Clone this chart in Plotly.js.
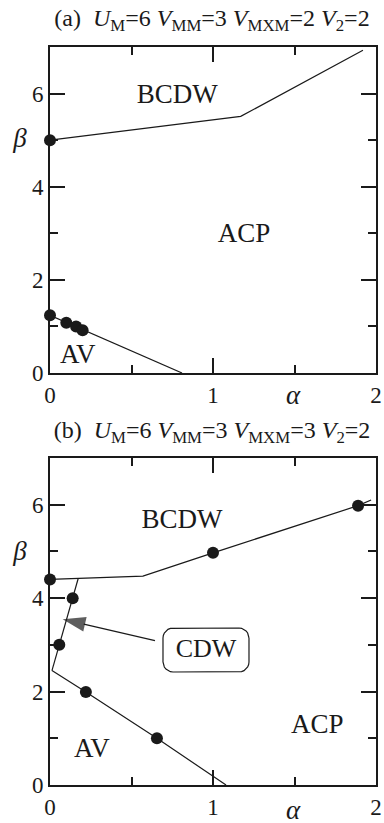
<!DOCTYPE html>
<html>
<head>
<meta charset="utf-8">
<script src="https://cdn.plot.ly/plotly-3.0.1.min.js"></script>
<style>html,body{margin:0;padding:0;background:#fff;}#chart{width:384px;height:823px;}</style>
</head>
<body>
<div id="chart"></div>
<script>
// ---------- Panel (a) data ----------
const aUpperX = [0, 1.17, 1.92];
const aUpperY = [5.0, 5.51, 6.93];
const aUpperPtsX = [0];
const aUpperPtsY = [5.0];
const aLowerX = [0, 0.81];
const aLowerY = [1.24, 0];
const aLowerPtsX = [0, 0.10, 0.16, 0.20];
const aLowerPtsY = [1.24, 1.08, 1.0, 0.92];

// ---------- Panel (b) data ----------
const bUpperX = [0, 0.57, 1.0, 1.89, 1.97];
const bUpperY = [4.4, 4.47, 4.97, 5.98, 6.1];
const bUpperPtsX = [0, 1.0, 1.89];
const bUpperPtsY = [4.4, 4.97, 5.98];
const bCdwX = [0.012, 0.057, 0.139, 0.173];
const bCdwY = [2.45, 3.0, 4.0, 4.42];
const bCdwPtsX = [0.057, 0.139];
const bCdwPtsY = [3.0, 4.0];
const bLowerX = [0.012, 0.22, 0.656, 1.08];
const bLowerY = [2.45, 1.99, 1.0, 0];
const bLowerPtsX = [0.22, 0.656];
const bLowerPtsY = [1.99, 1.0];

// ---------- labels ----------
const xTickStep = 1;
const xMinorStep = 0.5;
const yTickStep = 2;
const yMinorStep = 1;
const aPhaseNames = ['BCDW', 'ACP', 'AV'];
const aPhaseX = [0.78, 1.19, 0.17];
const aPhaseY = [5.95, 2.95, 0.36];
const bPhaseNames = ['BCDW', 'ACP', 'AV'];
const bPhaseX = [0.81, 1.64, 0.257];
const bPhaseY = [5.65, 1.26, 0.75];
const cdwLabel = 'CDW';
const cdwPos = [0.957, 2.89];
const cdwArrowTip = [0.078, 3.55];
const cdwArrowTail = [0.644, 3.09];
const titleA = '(a)  <i>U</i><sub>M</sub>=6 <i>V</i><sub>MM</sub>=3 <i>V</i><sub>MXM</sub>=2 <i>V</i><sub>2</sub>=2';
const titleB = '(b)  <i>U</i><sub>M</sub>=6 <i>V</i><sub>MM</sub>=3 <i>V</i><sub>MXM</sub>=3 <i>V</i><sub>2</sub>=2';
const xTitle = '<i>α</i>';
const yTitle = '<i>β</i>';

const FONT = 'Liberation Serif, Times New Roman, serif';
const INK = '#1a1a1a';
const W = 384, H = 823;
const X_LEFT = 50, X_RIGHT = 376;
const A_TOP = 47, A_BOTTOM = 373, B_TOP = 458, B_BOTTOM = 785;
const X_RANGE = [0, 2], Y_RANGE = [0, 7];

// pixel <-> data unit sizes (used for the rounded box only)
const ux = (X_RANGE[1] - X_RANGE[0]) / (X_RIGHT - X_LEFT);
const uyB = (Y_RANGE[1] - Y_RANGE[0]) / (B_BOTTOM - B_TOP);

function lineTrace(x, y, xa, ya) {
  return {x: x, y: y, xaxis: xa, yaxis: ya, mode: 'lines', type: 'scatter',
          line: {color: INK, width: 1.2}, showlegend: false, hoverinfo: 'none'};
}
function ptsTrace(x, y, xa, ya) {
  return {x: x, y: y, xaxis: xa, yaxis: ya, mode: 'markers', type: 'scatter',
          marker: {color: INK, size: 12}, showlegend: false, cliponaxis: false, hoverinfo: 'none'};
}
function textTrace(x, y, t, xa, ya, size) {
  return {x: x, y: y, text: t, xaxis: xa, yaxis: ya, mode: 'text', type: 'scatter',
          textposition: 'middle center', textfont: {family: FONT, size: size, color: INK},
          showlegend: false, cliponaxis: false, hoverinfo: 'none'};
}

// rounded box around CDW label: 43x22 px half-size, 10 px corner radius
function roundedBox(cx, cy, hw, hh, r) {
  const xs = [], ys = [];
  const corners = [[hw - r, hh - r, 0], [-(hw - r), hh - r, 90], [-(hw - r), -(hh - r), 180], [hw - r, -(hh - r), 270]];
  corners.forEach(c => {
    for (let k = 0; k <= 6; k++) {
      const a = (c[2] + k * 15) * Math.PI / 180;
      xs.push(cx + (c[0] + r * Math.cos(a)) * ux);
      ys.push(cy + (c[1] + r * Math.sin(a)) * uyB);
    }
  });
  xs.push(xs[0]); ys.push(ys[0]);
  return {x: xs, y: ys};
}
const box = roundedBox(cdwPos[0], cdwPos[1], 43, 22, 10);

// page-pixel positions of the texts outside the plotting areas (overlay subplot x3/y3)
const outsideText = [titleA, titleB, yTitle, yTitle, xTitle, xTitle];
const outsidePX = [212, 212, 20, 20, 293, 293];
const outsidePY = [20, 432, 140, 553, 397, 812];
const outsideSize = [24, 24, 27, 27, 27, 27];

const traces = [
  lineTrace(aUpperX, aUpperY, 'x', 'y'),
  lineTrace(aLowerX, aLowerY, 'x', 'y'),
  ptsTrace(aUpperPtsX, aUpperPtsY, 'x', 'y'),
  ptsTrace(aLowerPtsX, aLowerPtsY, 'x', 'y'),
  lineTrace(bUpperX, bUpperY, 'x2', 'y2'),
  lineTrace(bCdwX, bCdwY, 'x2', 'y2'),
  lineTrace(bLowerX, bLowerY, 'x2', 'y2'),
  ptsTrace(bUpperPtsX, bUpperPtsY, 'x2', 'y2'),
  ptsTrace(bCdwPtsX, bCdwPtsY, 'x2', 'y2'),
  ptsTrace(bLowerPtsX, bLowerPtsY, 'x2', 'y2'),
  // CDW box and arrow
  lineTrace(box.x, box.y, 'x2', 'y2'),
  {x: [cdwArrowTail[0], cdwArrowTip[0]], y: [cdwArrowTail[1], cdwArrowTip[1]], xaxis: 'x2', yaxis: 'y2',
   mode: 'lines+markers', type: 'scatter', line: {color: INK, width: 1.2},
   marker: {symbol: 'arrow', angleref: 'previous', size: [0, 24], color: INK, line: {width: 0}},
   showlegend: false, cliponaxis: false, hoverinfo: 'none'},
  // texts inside plots
  textTrace(aPhaseX, aPhaseY, aPhaseNames, 'x', 'y', 27),
  textTrace(bPhaseX, bPhaseY, bPhaseNames, 'x2', 'y2', 27),
  textTrace([cdwPos[0]], [cdwPos[1]], [cdwLabel], 'x2', 'y2', 26)
];
outsideText.forEach((t, i) => traces.push(textTrace([outsidePX[i]], [outsidePY[i]], [t], 'x3', 'y3', outsideSize[i])));

function xAxis(anchor) {
  return {
    domain: [X_LEFT / W, X_RIGHT / W], anchor: anchor, range: X_RANGE,
    tickmode: 'linear', tick0: 0, dtick: xTickStep,
    ticks: 'inside', ticklen: 15, tickwidth: 2, tickcolor: INK,
    minor: {dtick: xMinorStep, ticks: 'inside', ticklen: 8, tickwidth: 2, tickcolor: INK},
    showline: true, linewidth: 2, linecolor: INK, mirror: 'ticks',
    showgrid: false, zeroline: false,
    tickfont: {family: FONT, size: 23, color: INK}
  };
}
function yAxis(anchor, top, bottom) {
  return {
    domain: [1 - bottom / H, 1 - top / H], anchor: anchor, range: Y_RANGE,
    tickmode: 'linear', tick0: 0, dtick: yTickStep,
    ticks: 'inside', ticklen: 15, tickwidth: 2, tickcolor: INK,
    minor: {dtick: yMinorStep, ticks: 'inside', ticklen: 8, tickwidth: 2, tickcolor: INK},
    showline: true, linewidth: 2, linecolor: INK, mirror: 'ticks',
    showgrid: false, zeroline: false,
    tickfont: {family: FONT, size: 23, color: INK}
  };
}

const layout = {
  width: W, height: H, margin: {l: 0, r: 0, t: 0, b: 0},
  paper_bgcolor: '#fff', plot_bgcolor: 'rgba(0,0,0,0)', showlegend: false,
  xaxis: xAxis('y'), yaxis: yAxis('x', A_TOP, A_BOTTOM),
  xaxis2: xAxis('y2'), yaxis2: yAxis('x2', B_TOP, B_BOTTOM),
  xaxis3: {domain: [0, 1], range: [0, W], anchor: 'y3', visible: false, showgrid: false, zeroline: false},
  yaxis3: {domain: [0, 1], range: [H, 0], anchor: 'x3', visible: false, showgrid: false, zeroline: false}
};

Plotly.newPlot('chart', traces, layout, {staticPlot: true});
</script>
</body>
</html>
